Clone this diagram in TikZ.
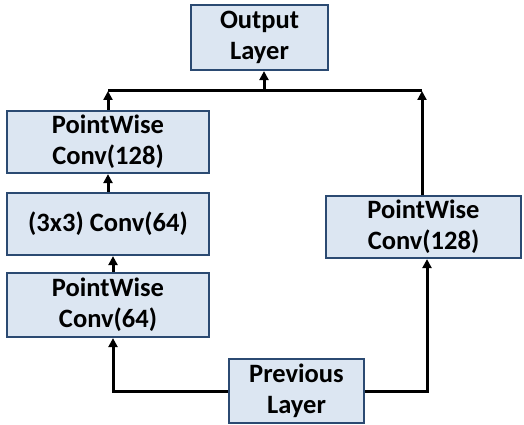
\documentclass[tikz,border=0pt]{standalone}
\usepackage{fontspec}
\setmainfont{Carlito}
\usetikzlibrary{arrows.meta}
\definecolor{boxfill}{HTML}{DCE6F2}
\definecolor{boxdraw}{HTML}{2B4A72}
\begin{document}
\begin{tikzpicture}[x=1pt,y=-1pt,
  blk/.style={draw=boxdraw,fill=boxfill,line width=2.2pt,align=center,inner sep=0pt,
    font=\fontsize{26.5}{31}\selectfont\bfseries},
  conn/.style={line width=3pt,black},
  arr/.style={conn,-{Triangle[width=9pt,length=9pt]}}]
\useasboundingbox (0,0) rectangle (524,425);
\node[blk,minimum width=137pt,minimum height=65pt] (out) at (259.5,37.5) {Output\\Layer};
\node[blk,minimum width=202pt,minimum height=62pt] (pw128) at (108,142) {PointWise\\Conv(128)};
\node[blk,minimum width=202pt,minimum height=62pt] (c33) at (108,224) {(3x3) Conv(64)};
\node[blk,minimum width=202pt,minimum height=64pt] (pw64) at (108,305) {PointWise\\Conv(64)};
\node[blk,minimum width=135pt,minimum height=64pt] (prev) at (296.5,391) {Previous\\Layer};
\node[blk,minimum width=195pt,minimum height=62pt] (pwr) at (423.5,227) {PointWise\\Conv(128)};
\coordinate (jl) at (108,91);
\coordinate (jr) at (422,91);
\coordinate (jo) at (264,91);
\coordinate (bl) at (113,391);
\coordinate (br) at (427,391);
\draw[conn] (jl) -- (jr);
\draw[arr] (pw128.north) -- (jl);
\draw[arr] (pwr.north -| jr) -- (jr);
\draw[arr] (jo) -- (jo |- out.south);
\draw[arr] (c33.north) -- (pw128.south);
\draw[arr] (pw64.north -| bl) -- (c33.south -| bl);
\draw[arr] (prev.west) -- (bl) -- (pw64.south -| bl);
\draw[arr] (prev.east) -- (br) -- (pwr.south -| br);
\end{tikzpicture}
\end{document}
